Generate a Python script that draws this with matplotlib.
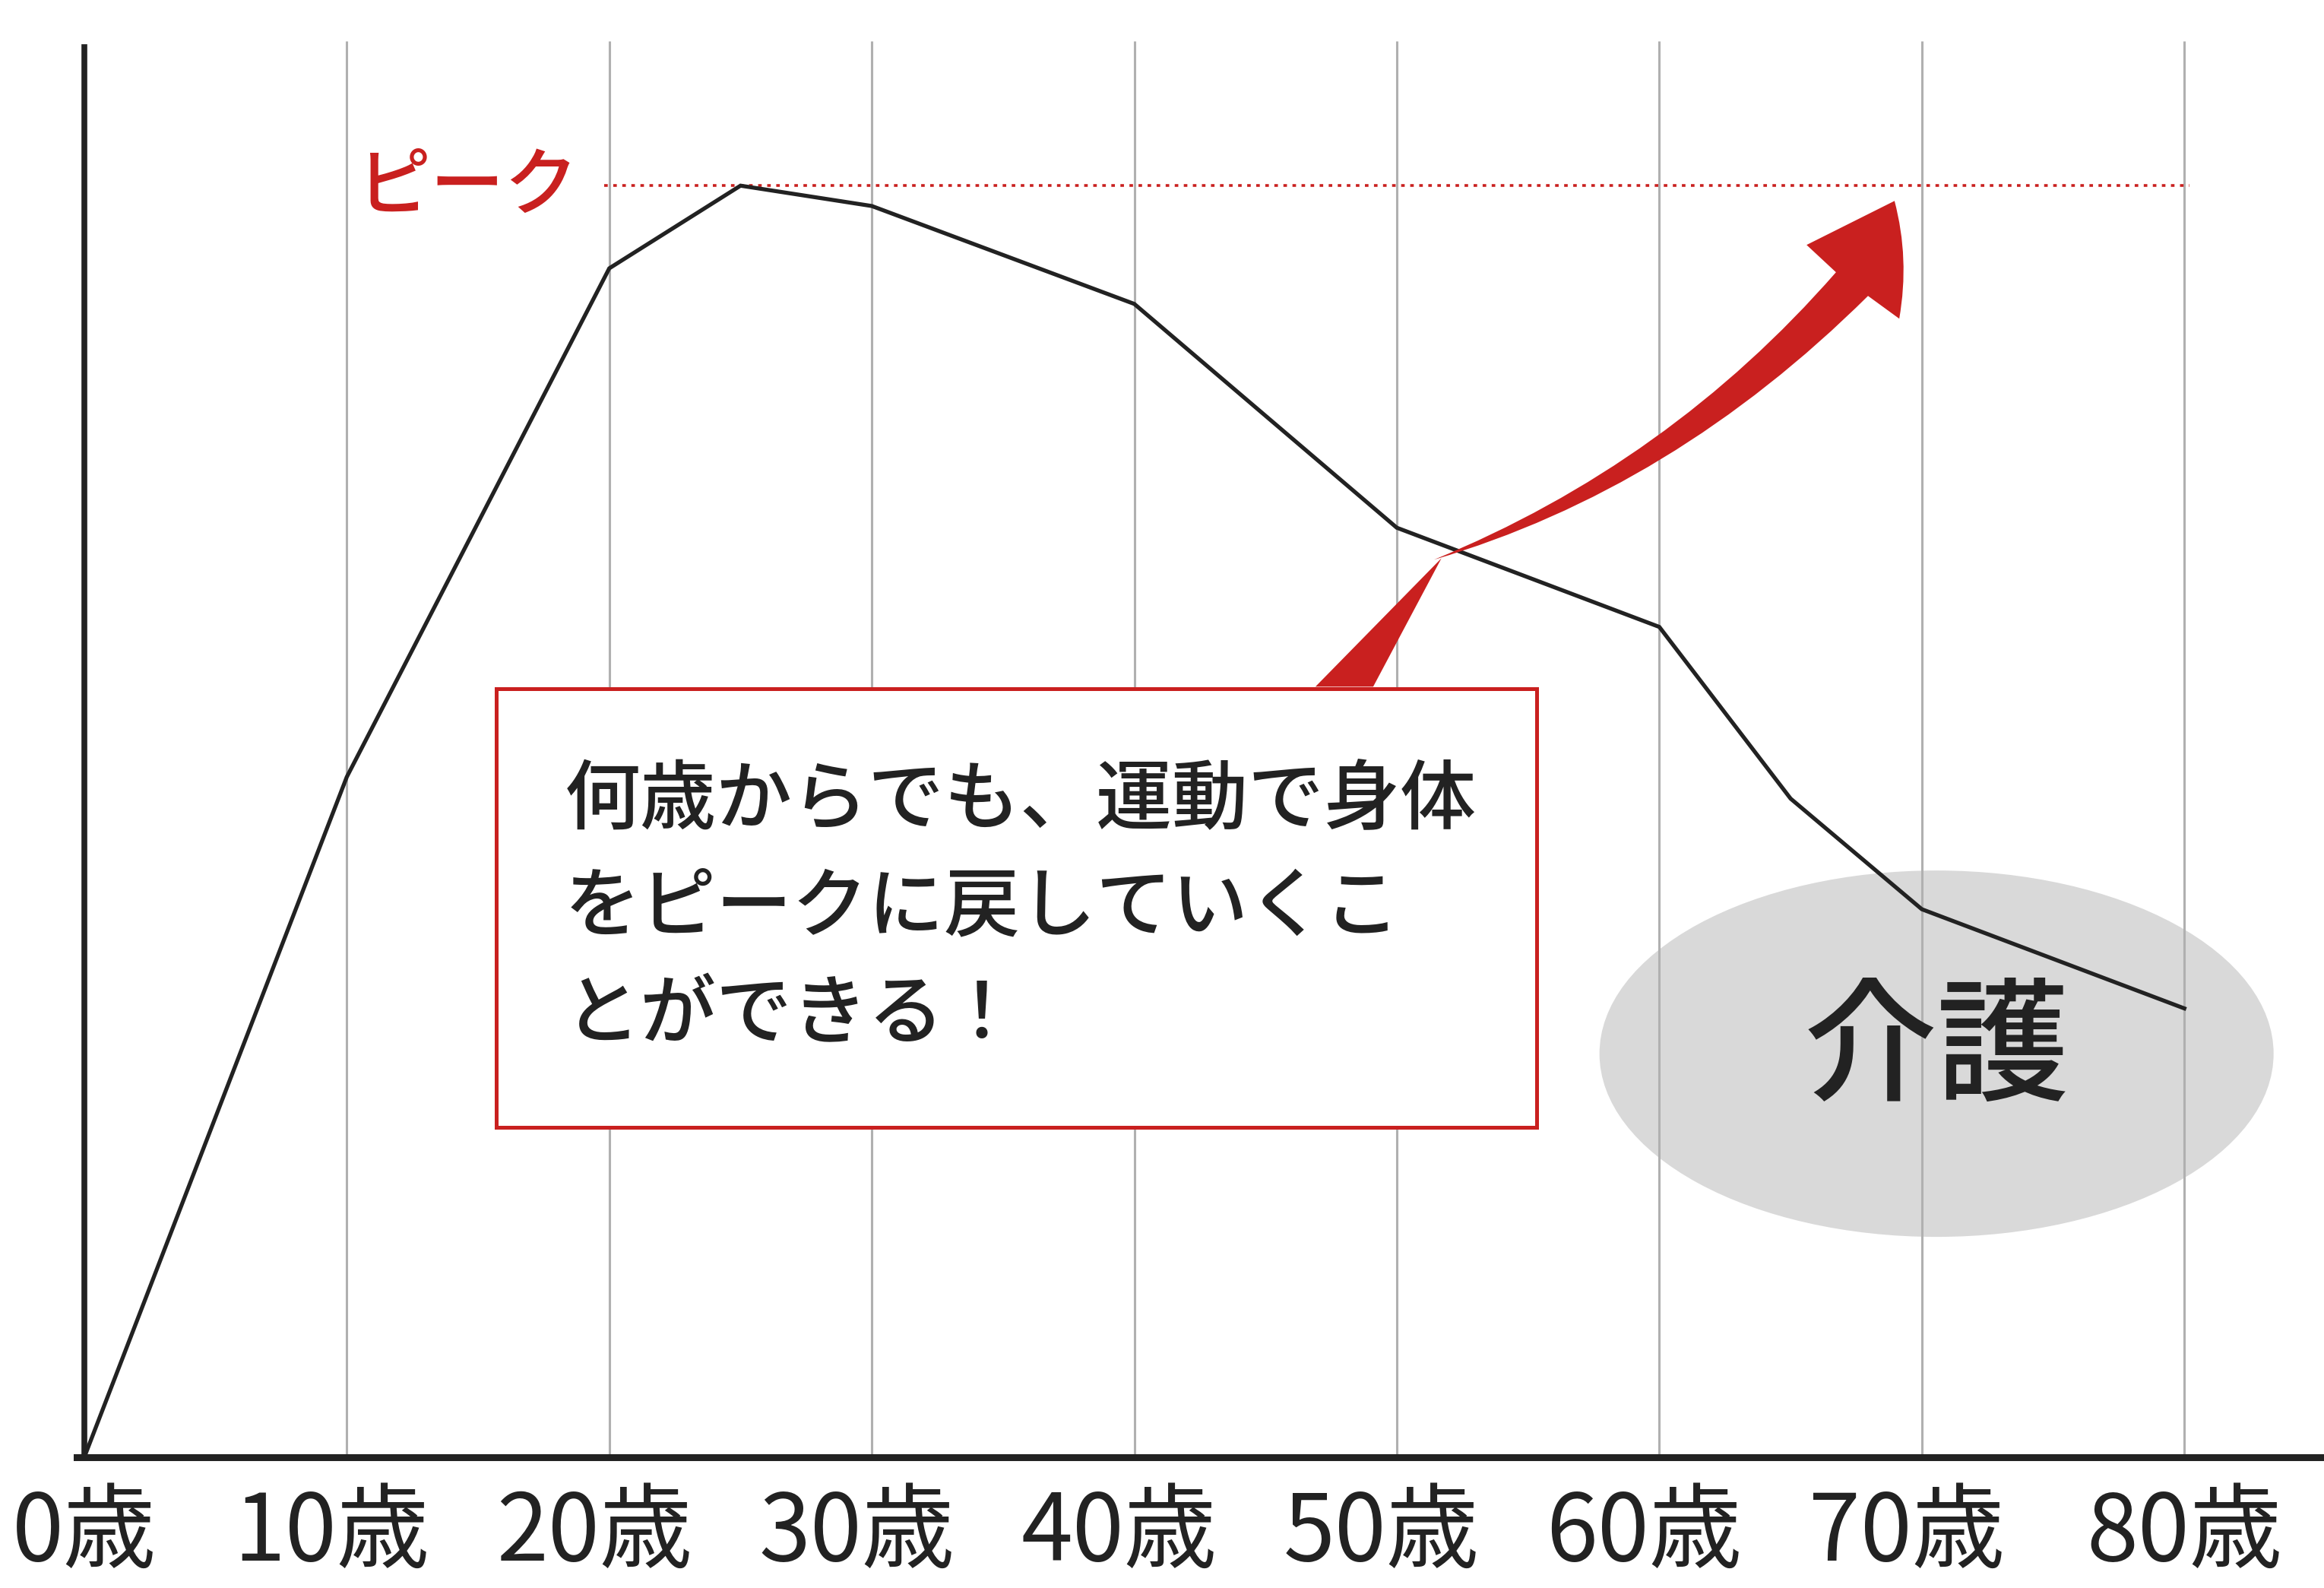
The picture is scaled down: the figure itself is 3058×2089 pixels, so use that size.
import matplotlib
matplotlib.use("Agg")
import matplotlib.pyplot as plt
import matplotlib.transforms as mtransforms
from matplotlib.patches import Rectangle, Ellipse, PathPatch, Polygon
from matplotlib.path import Path

plt.rcParams["font.family"] = ["Noto Sans CJK JP", "DejaVu Sans"]

# データ（ピーク = 100）
ages = [0, 10, 20, 25, 30, 40, 50, 60, 65, 70, 80]
level = [0, 53.5, 93.5, 100, 98.4, 90.7, 73.1, 65.3, 51.8, 43.1, 35.3]
tick_ages = [0, 10, 20, 30, 40, 50, 60, 70, 80]
tick_labels = ["0歳", "10歳", "20歳", "30歳", "40歳", "50歳", "60歳", "70歳", "80歳"]
peak_level = 100
box_lines = ["何歳からでも、運動で身体", "をピークに戻していくこ", "とができる！"]

red = "#c9201f"
ink = "#222222"

fig = plt.figure(figsize=(30.58, 20.89), dpi=100)
ax = fig.add_axes([0, 0.0823, 1, 0.9177])
ax.set_xlim(-3.21, 85.32)
ax.set_ylim(0, 114.6)

# 縦グリッド
ax.vlines(tick_ages[1:], 0, 111.4, color="#b0b0b0", lw=2.2, zorder=2)

# 介護の楕円
ax.add_patch(Ellipse((70.56, 31.74), 25.68, 28.81, facecolor="#d9d9d9",
                     edgecolor="none", zorder=1))
ax.text(70.56, 31.9, "介護", fontsize=126, color=ink, ha="center",
        va="center", weight="medium", zorder=6)

# 曲線
ax.plot(ages, level, color=ink, lw=3.8, zorder=4, solid_joinstyle="miter")

# ピーク線
ax.plot([19.8, 80.2], [peak_level, peak_level], color=red, lw=2.6,
        dashes=(1.3, 2.0), zorder=3)
ax.text(18.82, peak_level - 0.2, "ピーク", fontsize=70, color=red,
        ha="right", va="center", weight="medium", zorder=6)

# テキストボックス
ax.add_patch(Rectangle((15.7, 25.95), 39.63, 34.48, facecolor="white",
                       edgecolor=red, lw=3.6, zorder=5))
ax.add_patch(Polygon([(46.9, 60.6), (51.7, 70.7), (49.1, 60.6)],
                     closed=True, facecolor=red, edgecolor="none", zorder=5))
for i, line in enumerate(box_lines):
    ax.text(18.3, 51.64 - i * 8.485, line, fontsize=72, color=ink,
            ha="left", va="center", weight="medium", zorder=6)

# 赤い矢印
T = (51.42, 70.59)
verts = [T, (60.38, 78.18), (66.73, 93.19), (65.61, 95.34), (68.96, 98.80),
         (69.54, 94.26), (69.14, 89.54), (67.95, 91.33), (60.52, 76.12), T, T]
codes = [Path.MOVETO, Path.CURVE3, Path.CURVE3, Path.LINETO, Path.LINETO,
         Path.CURVE3, Path.CURVE3, Path.LINETO, Path.CURVE3, Path.CURVE3,
         Path.CLOSEPOLY]
ax.add_patch(PathPatch(Path(verts, codes), facecolor=red, edgecolor="none",
                       zorder=5))

# 軸
for s in ["top", "right"]:
    ax.spines[s].set_visible(False)
ax.spines["left"].set_position(("data", 0))
ax.spines["left"].set_bounds(0, 110.9)
ax.spines["left"].set_linewidth(5.5)
ax.spines["left"].set_color(ink)
ax.spines["bottom"].set_bounds(-0.3, 85.32)
ax.spines["bottom"].set_linewidth(6.5)
ax.spines["bottom"].set_color(ink)
ax.spines["bottom"].set_zorder(7)
ax.set_yticks([])
ax.set_xticks(tick_ages)
ax.set_xticklabels(tick_labels, fontsize=88, color=ink)
ax.tick_params(axis="x", length=0, pad=28)
shift = mtransforms.ScaledTranslation(-20 / 100, 0, fig.dpi_scale_trans)
for lab in ax.get_xticklabels()[1:-1]:
    lab.set_transform(lab.get_transform() + shift)

fig.savefig("out.png", dpi=100)
